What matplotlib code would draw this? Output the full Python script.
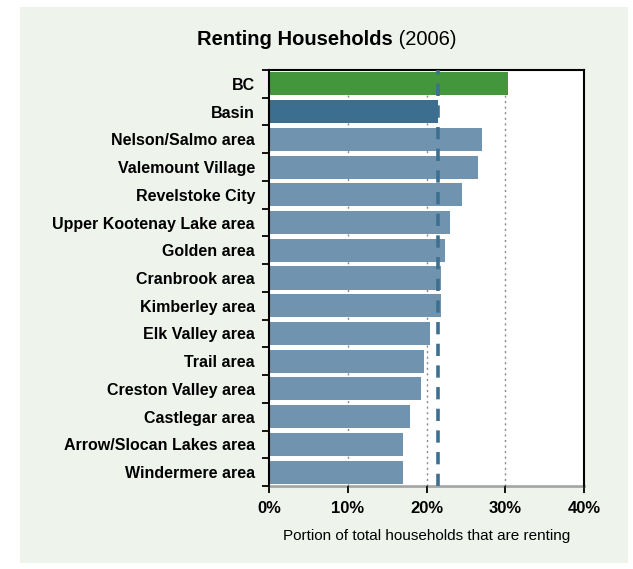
import matplotlib.pyplot as plt
from matplotlib.patches import Rectangle

plt.rcParams['font.family'] = ['Liberation Sans', 'DejaVu Sans']

# renting share of households, 2006 (%)
regions = ['BC', 'Basin', 'Nelson/Salmo area', 'Valemount Village', 'Revelstoke City',
           'Upper Kootenay Lake area', 'Golden area', 'Cranbrook area', 'Kimberley area',
           'Elk Valley area', 'Trail area', 'Creston Valley area', 'Castlegar area',
           'Arrow/Slocan Lakes area', 'Windermere area']
renting = [30.3, 21.4, 27.0, 26.5, 24.5, 23.0, 22.3, 21.8, 21.8, 20.4, 19.7, 19.3, 17.9, 17.0, 17.0]
basin_avg = 21.5
xticks = [0, 10, 20, 30, 40]

W, H = 633, 569
fig = plt.figure(figsize=(W / 100, H / 100), dpi=100)
fig.patch.set_facecolor('white')
fig.patches.append(Rectangle((20 / W, 1 - 563 / H), 608 / W, 556 / H,
                             transform=fig.transFigure, facecolor='#eef3ec',
                             edgecolor='none', zorder=-5))

ax = fig.add_axes([269 / W, 1 - 486 / H, 315 / W, 416 / H])
ax.set_facecolor('white')

colors = ['#43963b', '#3b6e8f'] + ['#7094b0'] * (len(regions) - 2)
ypos = list(range(len(regions)))
ax.barh(ypos, renting, height=0.83, color=colors, zorder=2)
ax.axvline(basin_avg, color='#3d7090', lw=2.6, linestyle=(0, (3.4, 2.6)), zorder=3)

for v in xticks[1:-1]:
    ax.axvline(v, color='#888888', lw=1, linestyle=(0, (1.5, 2.5)), zorder=1)

ax.set_xlim(0, 40)
ax.set_ylim(len(regions) - 0.5, -0.5)
ax.set_xticks(xticks)
ax.set_xticklabels([f'{v}%' for v in xticks], fontsize=12, fontweight='bold')
ax.set_yticks(ypos)
ax.set_yticklabels(regions, fontsize=11.5, fontweight='bold')
ax.set_yticks([i - 0.5 for i in range(len(regions) + 1)], minor=True)
ax.tick_params(axis='y', which='major', length=0, pad=10)
ax.tick_params(axis='y', which='minor', length=5, width=1.3, color='black')
ax.tick_params(axis='x', length=5, width=1.3, pad=6)

for side in ['left', 'top', 'right']:
    ax.spines[side].set_linewidth(1.5)
    ax.spines[side].set_color('black')
ax.spines['bottom'].set_linewidth(2)
ax.spines['bottom'].set_color((0.2, 0.2, 0.2, 0.4))

ax.set_xlabel('Portion of total households that are renting', fontsize=11, labelpad=9)

# title: bold part followed by plain year, centred as a pair
ty = 1 - 39.5 / H
t1 = fig.text(0, ty, 'Renting Households', fontsize=14.5, fontweight='bold', va='center')
t2 = fig.text(0, ty, ' (2006)', fontsize=14.5, va='center')
r = fig.canvas.get_renderer()
w1 = t1.get_window_extent(r).width / W
w2 = t2.get_window_extent(r).width / W
x0 = 327 / W - (w1 + w2) / 2
t1.set_x(x0)
t2.set_x(x0 + w1)

fig.savefig('out.png', dpi=100)
